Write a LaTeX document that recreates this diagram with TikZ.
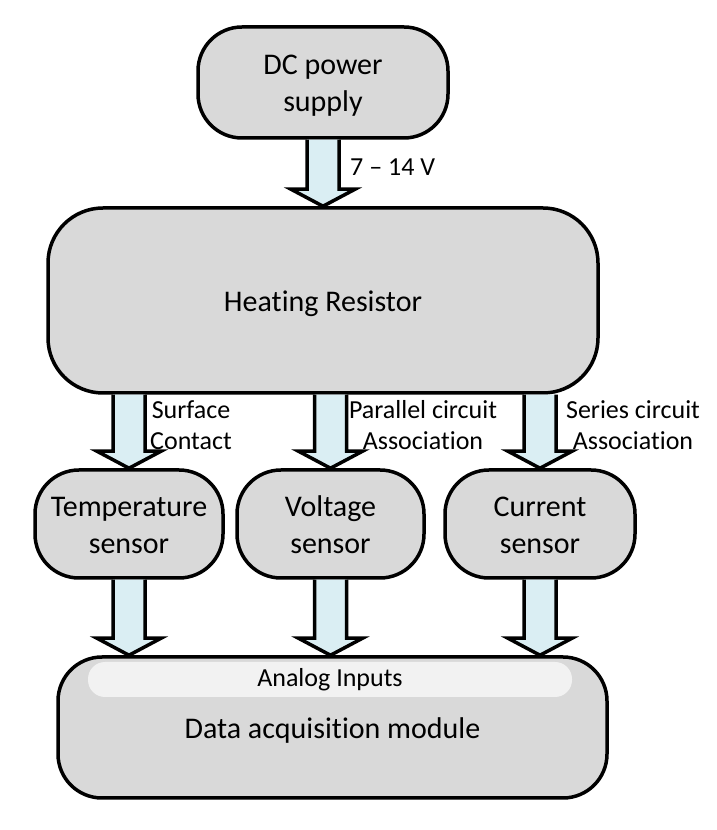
\documentclass[tikz,border=0pt]{standalone}
\usepackage{fontspec}
\setmainfont{Carlito}[Ligatures=NoCommon]
\usetikzlibrary{calc,positioning}

\definecolor{boxgray}{HTML}{D9D9D9}
\definecolor{arrowblue}{HTML}{DAEEF3}
\definecolor{bargray}{HTML}{F2F2F2}

% line strut for the box texts
\newcommand{\bstrut}{\rule[-7pt]{0pt}{36pt}}

% block arrow pointing down, from #1 to #2
\newcommand{\fatarrow}[2]{%
  \draw[fat arrow] let \p1=(#1), \p2=(#2) in
    (\x1-16pt,\y1) -- (\x1-16pt,\y2+17pt) -- (\x1-32pt,\y2+17pt)
    -- (\x1,\y2) -- (\x1+32pt,\y2+17pt) -- (\x1+16pt,\y2+17pt)
    -- (\x1+16pt,\y1);}

\begin{document}
\begin{tikzpicture}[%
    x=1pt, y=1pt,
    block/.style={draw, line width=3.5pt, fill=boxgray, rounded corners=#1,
      align=center, inner sep=0pt, font=\fontsize{30}{37}\selectfont},
    block/.default=44pt,
    fat arrow/.style={draw, line width=3.5pt, fill=arrowblue, line join=miter},
    note/.style={align=center, inner sep=0pt, font=\fontsize{26}{31}\selectfont}
  ]
    \useasboundingbox (0,0) rectangle (716,830);

    \node[block, minimum width=250, minimum height=111] (DC) at (323,747.5) {DC power\bstrut\\supply\bstrut};
    \node[block=55pt, minimum width=550, minimum height=185] (HR) at (323,529.5) {Heating Resistor\bstrut};

    \node[block, minimum width=188, minimum height=108] (TS) at (129,306) {Temperature\bstrut\\sensor\bstrut};
    \node[block, minimum width=187, minimum height=108] (VS) at (330.5,306) {Voltage\bstrut\\sensor\bstrut};
    \node[block, minimum width=190, minimum height=108] (CS) at (540,306) {Current\bstrut\\sensor\bstrut};

    \node[block, minimum width=549, minimum height=141] (DAQ) at (332.5,102.5) {Data acquisition module\bstrut};
    \node[note, fill=bargray, rounded corners=17pt, minimum width=484, minimum height=35]
      (AI) at (330,150.5) {Analog Inputs};

    % power and sensing paths
    \fatarrow{DC.south}{HR.north}
    \fatarrow{TS.north |- HR.south}{TS.north}
    \fatarrow{VS.north |- HR.south}{VS.north}
    \fatarrow{CS.north |- HR.south}{CS.north}

    % to the acquisition module
    \fatarrow{TS.south}{TS.south |- DAQ.north}
    \fatarrow{VS.south}{VS.south |- DAQ.north}
    \fatarrow{CS.south}{CS.south |- DAQ.north}

    \node[note, anchor=west] (volt) at (350,663) {7 -- 14 V};
    \node[note] (surf) at (191,402) {Surface\strut\\Contact\strut};
    \node[note] (par) at (423,402) {Parallel circuit\strut\\Association\strut};
    \node[note] (ser) at (633,402) {Series circuit\strut\\Association\strut};
\end{tikzpicture}
\end{document}
